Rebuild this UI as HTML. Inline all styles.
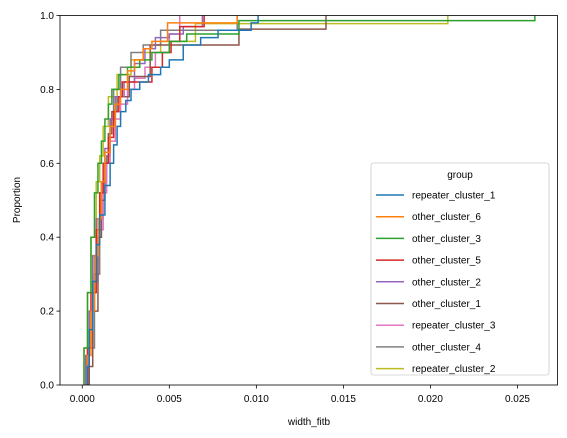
<!DOCTYPE html>
<html><head><meta charset="utf-8"><style>
body{margin:0;background:#fff;}
svg{display:block;font-family:"Liberation Sans","DejaVu Sans",sans-serif;}
</style></head><body>
<svg id="chart" width="567" height="438" viewBox="0 0 567 438" xmlns="http://www.w3.org/2000/svg">
<rect x="0" y="0" width="567" height="438" fill="#fff"/>
<g id="series"></g>
<g id="axes"></g>
<g id="legend"></g>
</svg>
<script>
const groupNames = ["repeater_cluster_1","other_cluster_6","other_cluster_3","other_cluster_5","other_cluster_2","other_cluster_1","repeater_cluster_3","other_cluster_4","repeater_cluster_2"];
const colors = ["#1f77b4","#ff7f0e","#2ca02c","#d62728","#9467bd","#8c564b","#e377c2","#7f7f7f","#bcbd22"];
const xRepeater1 = [0.0003,0.0004,0.0006,0.0008,0.0010,0.0013,0.0016,0.0018,0.0020,0.0022,0.0025,0.0028,0.0033,0.0038,0.0045,0.0050,0.0058,0.0068,0.0078,0.0097,0.0101];
const yRepeater1 = [0.05,0.15,0.28,0.38,0.46,0.54,0.60,0.65,0.70,0.74,0.77,0.80,0.82,0.84,0.86,0.88,0.92,0.94,0.96,0.98,1.0];
const xOther6 = [0.0003,0.0005,0.0007,0.0009,0.0011,0.0013,0.0016,0.0019,0.0022,0.0026,0.0030,0.0035,0.0040,0.0049,0.0089];
const yOther6 = [0.08,0.2,0.35,0.45,0.55,0.63,0.70,0.76,0.80,0.85,0.88,0.91,0.93,0.98,1.0];
const xOther3 = [0.0001,0.0003,0.0005,0.0007,0.0009,0.0011,0.0013,0.0015,0.0017,0.0021,0.0026,0.0033,0.0040,0.0050,0.0060,0.0090,0.026];
const yOther3 = [0.1,0.25,0.4,0.52,0.6,0.66,0.72,0.76,0.8,0.84,0.86,0.88,0.90,0.93,0.95,0.986,1.0];
const xOther5 = [0.0003,0.0005,0.0008,0.0010,0.0012,0.0015,0.0018,0.0021,0.0023,0.0040,0.0046,0.0051,0.0056,0.0070];
const yOther5 = [0.1,0.25,0.42,0.52,0.6,0.67,0.74,0.78,0.82,0.86,0.90,0.93,0.97,1.0];
const xOther2 = [0.0002,0.0004,0.0006,0.0008,0.0011,0.0013,0.0016,0.0019,0.0024,0.0030,0.0036,0.0042,0.0050,0.0058,0.0069];
const yOther2 = [0.08,0.2,0.35,0.45,0.55,0.64,0.72,0.78,0.82,0.87,0.91,0.94,0.95,0.97,1.0];
const xOther1 = [0.0004,0.0006,0.0009,0.0011,0.0013,0.0015,0.0017,0.0020,0.0027,0.0039,0.0090,0.0140];
const yOther1 = [0.05,0.2,0.4,0.5,0.6,0.68,0.74,0.78,0.835,0.92,0.963,1.0];
const xRepeater3 = [0.0003,0.0006,0.0009,0.0012,0.0014,0.0016,0.0019,0.0022,0.0026,0.0030,0.0036,0.0042,0.0050,0.0056];
const yRepeater3 = [0.1,0.28,0.42,0.52,0.6,0.66,0.72,0.76,0.8,0.83,0.86,0.9,0.95,1.0];
const xOther4 = [0.0004,0.0007,0.0010,0.0012,0.0014,0.0016,0.0018,0.0022,0.0028,0.0035,0.0045,0.0089];
const yOther4 = [0.1,0.3,0.45,0.55,0.62,0.72,0.8,0.86,0.90,0.92,0.96,1.0];
const xRepeater2 = [0.0001,0.0003,0.0005,0.0008,0.0010,0.0012,0.0015,0.0020,0.0028,0.0035,0.0045,0.0065,0.0210];
const yRepeater2 = [0.1,0.25,0.4,0.55,0.62,0.7,0.78,0.84,0.88,0.90,0.93,0.978,1.0];
const xTicks = [0,0.005,0.01,0.015,0.02,0.025];
const xTickLabels = ["0.000","0.005","0.010","0.015","0.020","0.025"];
const yTicks = [0,0.2,0.4,0.6,0.8,1.0];
const yTickLabels = ["0.0","0.2","0.4","0.6","0.8","1.0"];

const seriesX = [xRepeater1,xOther6,xOther3,xOther5,xOther2,xOther1,xRepeater3,xOther4,xRepeater2];
const seriesY = [yRepeater1,yOther6,yOther3,yOther5,yOther2,yOther1,yRepeater3,yOther4,yRepeater2];

const NS = "http://www.w3.org/2000/svg";
const L = 60, R = 557.5, T = 15.5, B = 385;
const xMin = -0.00128, xMax = 0.0273;
function sx(v){ return L + (v - xMin) / (xMax - xMin) * (R - L); }
function sy(v){ return B - v * (B - T); }
function mk(tag, attrs, parent){ const e = document.createElementNS(NS, tag); for (const k in attrs) e.setAttribute(k, attrs[k]); parent.appendChild(e); return e; }

const gS = document.getElementById("series");
for (let i = seriesX.length - 1; i >= 0; i--) {
  const xs = seriesX[i], ys = seriesY[i];
  let d = "M" + sx(xs[0]).toFixed(2) + "," + sy(0).toFixed(2);
  for (let j = 0; j < xs.length; j++) {
    d += " H" + sx(xs[j]).toFixed(2) + " V" + sy(ys[j]).toFixed(2);
  }
  const p = mk("path", {d: d, fill: "none", stroke: colors[i], "stroke-width": 1.5}, gS);
  
  
}

const gA = document.getElementById("axes");
const frame = mk("rect", {x: L, y: T, width: R - L, height: B - T, fill: "none", stroke: "#000", "stroke-width": 0.8}, gA);


xTicks.forEach((v, i) => {
  const x = sx(v);
  const t = mk("line", {x1: x, x2: x, y1: B, y2: B + 3.5, stroke: "#000", "stroke-width": 0.8}, gA);
  
  
  const lb = mk("text", {x: x, y: B + 17, "font-size": 10, "text-anchor": "middle", fill: "#000"}, gA);
  lb.textContent = xTickLabels[i];
  
  
});
yTicks.forEach((v, i) => {
  const y = sy(v);
  const t = mk("line", {x1: L - 3.5, x2: L, y1: y, y2: y, stroke: "#000", "stroke-width": 0.8}, gA);
  
  
  const lb = mk("text", {x: L - 6, y: y + 3.5, "font-size": 10, "text-anchor": "end", fill: "#000"}, gA);
  lb.textContent = yTickLabels[i];
  
  
});
const xt = mk("text", {x: 309, y: 425, "font-size": 10, "text-anchor": "middle", fill: "#000"}, gA);
xt.textContent = "width_fitb";


const yt = mk("text", {x: 20, y: 200, "font-size": 10, "text-anchor": "middle", fill: "#000", transform: "rotate(-90 20 200)"}, gA);
yt.textContent = "Proportion";



const gL = document.getElementById("legend");
const box = mk("rect", {x: 371, y: 163, width: 178, height: 212, rx: 2.5, fill: "#fff", "fill-opacity": 0.8, stroke: "#ccc", "stroke-width": 0.8}, gL);


const lt = mk("text", {x: 460, y: 178, "font-size": 10, "text-anchor": "middle", fill: "#000"}, gL);
lt.textContent = "group";


groupNames.forEach((n, i) => {
  const y = 195 + i * 21.7;
  const g = mk("g", {}, gL);
  
  
  mk("line", {x1: 376, x2: 404, y1: y, y2: y, stroke: colors[i], "stroke-width": 1.5}, g);
  const tx = mk("text", {x: 412, y: y + 3.5, "font-size": 10, fill: "#000"}, g);
  tx.textContent = n;
});
</script>
</body></html>
